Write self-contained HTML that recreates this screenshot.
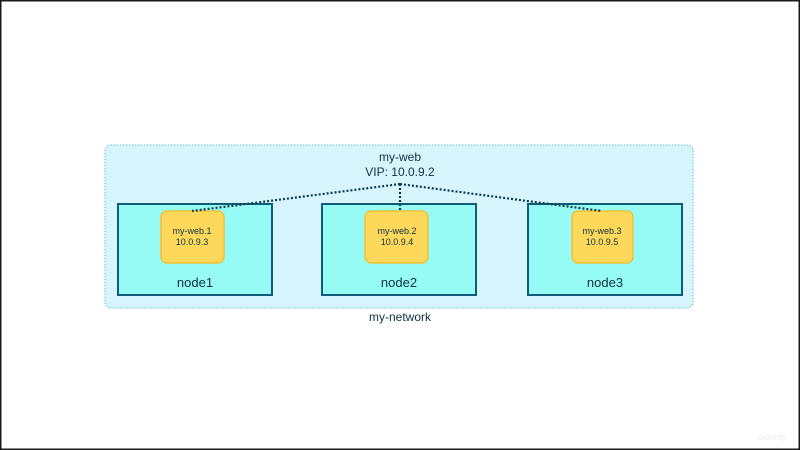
<!DOCTYPE html>
<html><head><style>
html,body{margin:0;padding:0;background:#fff}
svg{display:block}
text{font-family:"Liberation Sans",Arial,sans-serif;fill:#0d3340}
</style></head><body>
<svg width="800" height="450" viewBox="0 0 800 450" xmlns="http://www.w3.org/2000/svg">
<rect x="0" y="0" width="800" height="450" fill="#fff"/>
<rect x="0.5" y="0.5" width="799" height="449" fill="none" stroke="#1a1a1a" stroke-width="2"/>
<rect x="105" y="145" width="588" height="163" rx="6" fill="#d6f5fd" stroke="#5cc6d6" stroke-width="1" stroke-dasharray="1.5,1.5"/>
<text x="400" y="161" font-size="12" text-anchor="middle">my-web</text>
<text x="400" y="176" font-size="12" text-anchor="middle">VIP: 10.0.9.2</text>
<text x="400" y="321" font-size="12" text-anchor="middle">my-network</text>
<g fill="#96fbf4" stroke="#0f5d78" stroke-width="2">
<rect x="118" y="204" width="154" height="91"/>
<rect x="322" y="204" width="154" height="91"/>
<rect x="528" y="204" width="154" height="91"/>
</g>
<g fill="#fdd85a" stroke="#f5b922" stroke-width="1.2">
<rect x="161" y="211" width="63" height="52" rx="6"/>
<rect x="365" y="211" width="63" height="52" rx="6"/>
<rect x="572" y="211" width="61" height="52" rx="6"/>
</g>
<g stroke="#0d3a4a" stroke-width="2.2" stroke-dasharray="2,2" fill="none">
<line x1="400" y1="184" x2="192" y2="211"/>
<line x1="400" y1="184" x2="400" y2="211"/>
<line x1="400" y1="184" x2="602" y2="211"/>
</g>
<g font-size="9" text-anchor="middle">
<text x="192" y="234">my-web.1</text><text x="192" y="245">10.0.9.3</text>
<text x="397" y="234">my-web.2</text><text x="397" y="245">10.0.9.4</text>
<text x="602" y="234">my-web.3</text><text x="602" y="245">10.0.9.5</text>
</g>
<g font-size="13" text-anchor="middle">
<text x="195" y="287">node1</text>
<text x="399" y="287">node2</text>
<text x="605" y="287">node3</text>
</g>
<text x="772" y="440" font-size="9" fill="#eee" text-anchor="middle" style="fill:#eeeeee">Udemy</text>
</svg>
</body></html>
